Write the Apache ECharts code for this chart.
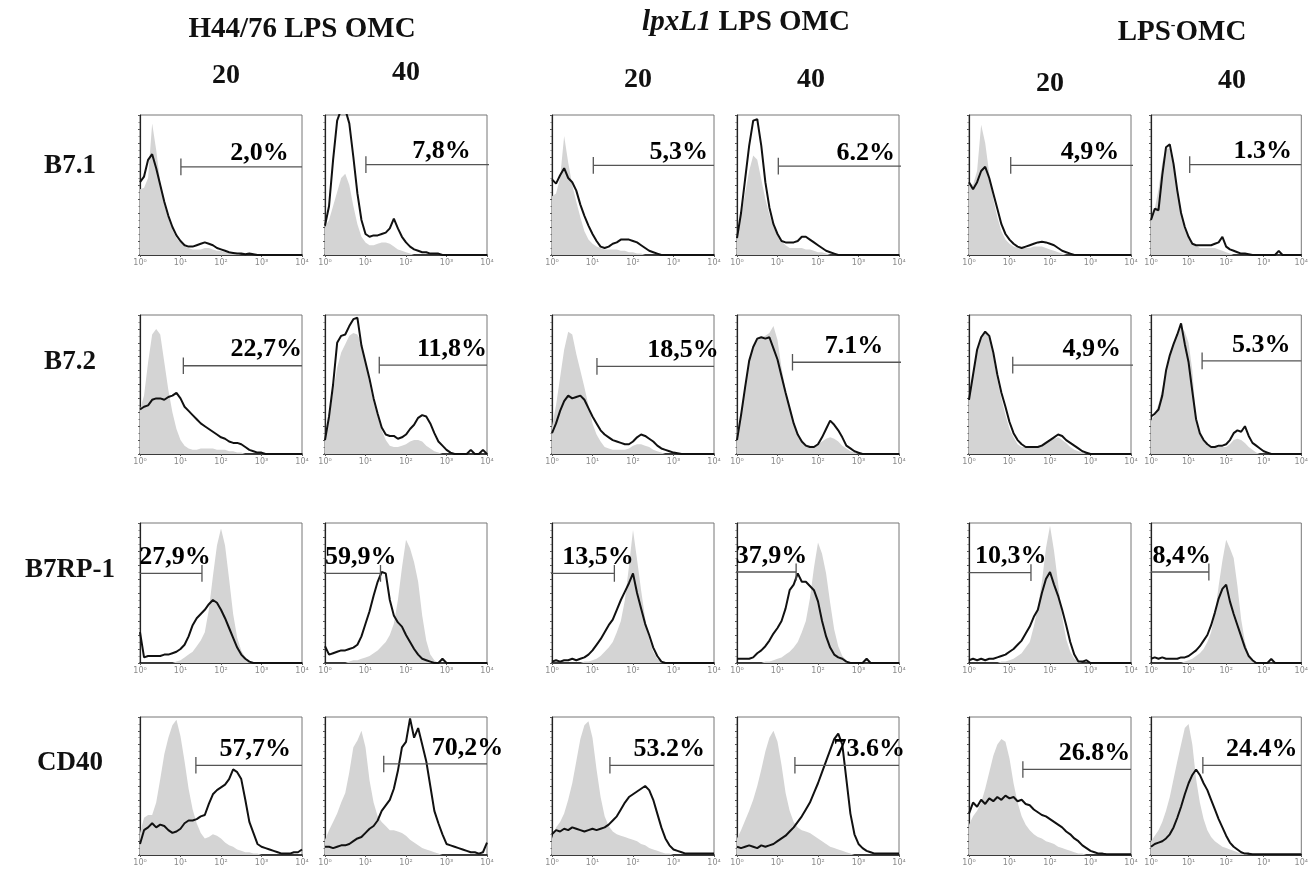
<!DOCTYPE html>
<html>
<head>
<meta charset="utf-8">
<title>B7 / CD40 expression</title>
<script src="https://cdn.jsdelivr.net/npm/echarts@6/dist/echarts.min.js"></script>
<style>
  html, body { margin: 0; padding: 0; background: #fff; }
  #main { width: 1311px; height: 870px; }
</style>
</head>
<body>
<div id="main"></div>
<script>
// log10 fluorescence, one point every 0.1 decade
var decades = [0,0.1,0.2,0.3,0.4,0.5,0.6,0.7,0.8,0.9,1,1.1,1.2,1.3,1.4,1.5,1.6,1.7,1.8,1.9,2,
  2.1,2.2,2.3,2.4,2.5,2.6,2.7,2.8,2.9,3,3.1,3.2,3.3,3.4,3.5,3.6,3.7,3.8,3.9,4];
var tickLabels = ["10⁰", "10¹", "10²", "10³", "10⁴"];

var groups = ["H44/76 LPS OMC", "lpxL1 LPS OMC", "LPS-OMC"];
var doses = ["20", "40", "20", "40", "20", "40"];
var markers = ["B7.1", "B7.2", "B7RP-1", "CD40"];

var percents = [
  ["2,0%", "7,8%", "5,3%", "6.2%", "4,9%", "1.3%"],
  ["22,7%", "11,8%", "18,5%", "7.1%", "4,9%", "5.3%"],
  ["27,9%", "59,9%", "13,5%", "37,9%", "10,3%", "8,4%"],
  ["57,7%", "70,2%", "53.2%", "73.6%", "26.8%", "24.4%"]
];

// gate: from / to (decades), height (% of panel), where the end tick sits
var gateFrom = [
  [1.01, 1.01, 1.02, 1.02, 1.03, 1.03],
  [1.07, 1.34, 1.11, 1.37, 1.08, 1.36],
  [0, -0.08, -0.04, -0.04, 0, 0],
  [1.38, 1.45, 1.43, 1.43, 1.33, 1.38]
];
var gateTo = [
  [4, 4.12, 4, 4.05, 4.05, 4],
  [4, 4, 4, 4.1, 4.12, 4],
  [1.53, 1.37, 1.54, 1.46, 1.53, 1.54],
  [4, 4, 4, 4, 4, 4]
];
var gateLevel = [
  [63, 64.5, 64, 63.5, 64, 64.5],
  [63.5, 64, 63, 66, 64, 67],
  [64, 64, 64, 65, 64.5, 65],
  [65, 66, 65, 65, 62, 65]
];
var gateTicks = [
  ["from", "from", "from", "from", "from", "from"],
  ["from", "from", "from", "from", "both", "from"],
  ["to", "to", "to", "to", "to", "to"],
  ["from", "from", "from", "from", "from", "from"]
];
// where the percentage text ends (right aligned) or starts (row 3, left aligned)
var labelAt = [
  [3.67, 3.6, 3.85, 3.9, 3.71, 3.75],
  [4.0, 4.0, 4.12, 3.61, 3.75, 3.71],
  [-0.02, 0, 0.25, -0.03, 0.15, 0.04],
  [3.73, 4.4, 3.78, 4.15, 3.98, 3.9]
];

// grey filled histograms (control), % of panel height
var greyB71 = [
  [47,48,55,94,75,52,36,26,18,12,9,6,5,4,4,4,5,5,4,3,3,2,2,1,1,0,0,0,0,0,0,0,0,0,0,0,0,0,0,0,0],
  [20,25,35,45,55,58,50,35,22,13,9,7,7,8,9,9,8,6,4,3,2,1,0,0,0,0,0,0,0,0,0,0,0,0,0,0,0,0,0,0,0],
  [42,44,55,85,66,50,38,27,17,11,8,6,5,4,4,4,4,3,3,2,2,1,1,0,0,0,0,0,0,0,0,0,0,0,0,0,0,0,0,0,0],
  [12,28,44,60,71,68,54,40,29,20,14,10,7,5,5,5,5,4,4,3,2,2,1,0,0,0,0,0,0,0,0,0,0,0,0,0,0,0,0,0,0],
  [52,50,60,93,80,58,40,27,17,11,8,6,5,5,5,5,6,6,6,5,4,3,2,1,0,0,0,0,0,0,0,0,0,0,0,0,0,0,0,0,0],
  [25,33,47,66,76,76,62,46,32,20,13,9,7,5,5,5,5,5,4,3,2,1,0,0,0,0,0,0,0,0,0,0,0,0,0,0,0,0,0,0,0]
];
var lineB71 = [
  [52,56,68,72,62,50,38,28,20,14,10,7,6,6,7,8,9,8,7,5,4,3,2,1.5,1,1,0.5,1,0.5,0,0,0,0,0,0,0,0,0,0,0,0],
  [21,35,68,96,104,104,94,70,44,25,15,13,14,14,15,16,19,26,19,13,9,6,4,3,2,2,1,1,1,0,0,0,0,0,0,0,0,0,0,0,0],
  [54,51,57,62,55,52,46,36,28,21,15,10,6,5,6,8,9,11,11,11,10,9,7,5,3,2,1,0,0,0,0,0,0,0,0,0,0,0,0,0,0],
  [12,30,54,78,96,97,78,52,34,22,15,10,9,9,9,10,13,13,11,9,7,5,3,2,1,0,0,0,0,0,0,0,0,0,0,0,0,0,0,0,0],
  [52,47,52,60,63,55,44,33,22,15,11,8,6,5,6,7,8,9,9.5,9,8,7,5,3,2,1,0,0,0,0,0,0,0,0,0,0,0,0,0,0,0],
  [25,33,32,57,77,79,65,46,30,20,13,8,7,7,7,7,7,8,9,13,6,4,3,2,1,1,0.5,0,0,0,0,0,0,0,3,0,0,0,0,0,0]
];

var greyB72 = [
  [32,42,66,86,90,86,66,46,30,18,10,6,4,3,3,4,4,4,4,3,3,3,2,2,1,1,0,0,0,0,0,0,0,0,0,0,0,0,0,0,0],
  [10,25,45,62,73,79,85,87,86,80,67,50,37,27,17,10,6,5,5,6,7,9,10,10,9,6,4,2,1,0,0,0,0,0,0,0,0,0,0,0,0],
  [20,35,55,75,88,86,72,60,48,35,22,14,9,5,4,3,3,3,3,4,6,7,7,6,5,3,2,1,0,0,0,0,0,0,0,0,0,0,0,0,0],
  [15,30,50,66,76,82,84,85,87,92,82,62,46,34,22,13,9,7,6,6,7,9,11,12,11,9,6,4,2,1,0,0,0,0,0,0,0,0,0,0,0],
  [39,57,76,85,88,84,70,53,40,28,18,12,7,5,5,5,5,6,7,9,10,11,12,10,8,5,3,2,1,0,0,0,0,0,0,0,0,0,0,0,0],
  [24,28,36,47,60,72,80,86,91,88,80,60,25,14,9,6,5,5,5,5,5,7,10,11,10,8,5,3,1,0,0,0,0,0,0,0,0,0,0,0,0]
];
var lineB72 = [
  [32,34,35,39,40,40,39,41,42,44,40,34,31,28,25,22,20,18,16,14,12,11,9,8,8,7,5,3,2,1,1,0,0,0,0,0,0,0,0,0,0],
  [10,27,50,80,85,86,92,97,98,78,66,54,40,29,19,14,13,13,11,12,14,18,21,26,28,27,22,15,9,6,3,1,0,0,0,0,3,0,0,3,0],
  [15,22,31,38,42,40,41,42,39,33,27,22,17,14,12,10,9,8,7,7,9,12,14,13,11,9,6,4,3,2,1,0.5,0,0,0,0,0,0,0,0,0],
  [10,28,48,67,77,83,84,83,84,76,68,56,44,33,22,14,9,6,5,5,7,12,18,24,21,17,12,6,4,2,1,0,0,0,0,0,0,0,0,0,0],
  [39,57,75,84,88,85,73,57,44,34,23,15,10,7,5,5,5,5,6,8,10,12,14,13,10,8,6,4,2,1,0,0,0,0,0,0,0,0,0,0,0],
  [27,29,32,42,60,71,79,86,94,79,66,45,25,15,10,7,5,5,6,6,7,10,15,17,16,20,13,8,6,4,2,1,0,0,0,0,0,0,0,0,0]
];

var greyB7RP1 = [
  [0,0,0,0,0,0,0,0,0,1,2,4,6,8,12,16,22,38,62,84,96,84,60,35,18,9,4,1,0,0,0,0,0,0,0,0,0,0,0,0,0],
  [0,0,0,0,0,0,1,2,2,3,4,5,7,9,12,15,20,28,45,68,88,82,72,58,34,16,6,2,0,0,0,0,0,0,0,0,0,0,0,0,0],
  [0,0,0,0,0,0,0,0,1,1,2,3,5,8,11,15,22,30,45,69,95,74,52,32,17,8,3,1,0,0,0,0,0,0,0,0,0,0,0,0,0],
  [0,0,0,0,0,0,0,1,1,2,3,4,6,8,11,15,22,30,46,68,86,78,64,43,24,12,5,2,0,0,0,0,0,0,0,0,0,0,0,0,0],
  [0,0,0,0,0,0,0,0,1,1,2,3,5,7,11,15,26,40,58,82,98,80,57,33,17,8,3,1,0,0,0,0,0,0,0,0,0,0,0,0,0],
  [0,0,0,0,0,0,0,0,0,1,2,3,5,7,10,15,22,35,55,73,88,82,75,55,31,15,6,2,0,0,0,0,0,0,0,0,0,0,0,0,0]
];
var lineB7RP1 = [
  [22,4,5,5,5,5,6,6,7,8,10,13,19,27,32,35,38,42,45,43,38,32,25,18,11,6,3,1,0,0,0,0,0,0,0,0,0,0,0,0,0],
  [12,6,7,8,9,9,10,11,13,19,28,37,48,58,65,64,45,34,29,26,20,15,10,6,3,2,1,0,0,3,0,0,0,0,0,0,0,0,0,0,0],
  [1,2,1,2,2,3,2,3,4,6,9,13,17,22,27,31,38,45,51,57,64,50,39,28,20,11,5,1,0,0,0,0,0,0,0,0,0,0,0,0,0],
  [3,3,3,3,4,7,9,12,16,21,25,30,39,52,56,64,58,58,55,52,44,30,19,11,6,4,3,1,0,0,0,0,3,0,0,0,0,0,0,0,0],
  [2,3,2,3,2,3,3,4,5,6,8,10,13,16,21,26,33,38,50,60,65,56,48,38,27,15,6,1,1,2,0,0,0,0,0,0,0,0,0,0,0],
  [3,4,3,4,3,3,3,3,4,4,5,7,9,12,16,20,27,36,46,53,56,44,35,27,19,11,5,2,0,0,0,0,3,0,0,0,0,0,0,0,0]
];

var greyCD40 = [
  [16,27,29,29,38,55,73,85,94,98,86,68,48,33,23,16,12,13,15,14,12,9,7,6,4,3,2,2,1,1,0,0,0,0,0,0,0,0,0,0,0],
  [11,18,24,30,38,45,60,78,83,90,78,54,38,28,24,21,18,18,17,16,14,11,9,7,5,4,3,2,1,0,0,0,0,0,0,0,0,0,0,0,0],
  [12,20,24,30,40,52,68,84,94,97,85,62,42,28,21,17,15,14,13,12,11,10,8,7,5,4,3,2,1,1,0,0,0,0,0,0,0,0,0,0,0],
  [12,18,25,32,40,50,62,75,85,90,82,65,45,32,24,20,18,17,16,14,12,10,8,6,5,4,3,2,1,0,0,0,0,0,0,0,0,0,0,0,0],
  [22,28,32,38,48,60,72,80,84,82,70,52,38,28,22,18,15,13,12,10,9,8,6,5,4,3,2,1,1,0,0,0,0,0,0,0,0,0,0,0,0],
  [10,14,18,24,32,42,55,68,80,92,95,80,55,38,26,18,13,10,8,6,5,4,3,2,1,1,0,0,0,0,0,0,0,0,0,0,0,0,0,0,0]
];
var lineCD40 = [
  [8,18,20,23,20,22,21,18,16,17,19,23,25,25,26,28,29,37,44,47,49,51,55,62,60,55,40,24,16,8,6,5,4,3,2,1,1,1,2,2,4],
  [6,6,5,6,7,7,8,10,12,13,16,19,21,25,32,36,40,48,61,78,82,99,85,92,80,68,50,32,23,15,8,7,6,5,4,3,2,2,1,2,9],
  [15,18,17,19,18,20,19,18,17,18,19,18,19,20,22,25,28,33,38,42,44,46,48,50,47,40,30,20,12,7,4,3,2,1,1,1,1,1,1,1,1],
  [6,5,6,7,6,5,7,6,7,8,10,12,14,17,20,24,28,33,38,45,52,60,68,76,84,88,80,55,30,15,8,5,3,2,1,1,1,1,1,1,1],
  [30,38,35,40,37,41,39,42,40,43,41,42,39,40,37,36,33,31,29,28,26,24,22,20,17,15,12,10,7,5,3,2,1,1,0.5,0.5,0.5,0.5,0.5,0.5,0.5],
  [6,8,9,10,12,15,20,27,35,44,52,58,62,58,52,47,40,33,26,20,14,9,6,4,2,1,1,0.5,0.5,0.5,0.5,0.5,0.5,0.5,0.5,0.5,0.5,0.5,0.5,0.5,0.5]
];

var greyRows = [greyB71, greyB72, greyB7RP1, greyCD40];
var lineRows = [lineB71, lineB72, lineB7RP1, lineCD40];

// layout
var colLeft = [140, 325, 552, 737, 969, 1151];
var rowTop = [115, 315, 523, 717];
var rowHeight = [140, 139, 140, 138];
var panelWidth = 162;
var labelLift = [0, 3, 3, 3];
var serif = "Liberation Serif";

var chart = echarts.init(document.getElementById("main"));

var grid = [], xAxis = [], yAxis = [], series = [];

function pairs(values) {
  return decades.map(function (d, i) { return [d, values[i]]; });
}

markers.forEach(function (marker, r) {
  for (var c = 0; c < 6; c++) {
    var k = r * 6 + c;
    grid.push({
      left: colLeft[c],
      top: rowTop[r],
      width: panelWidth,
      height: rowHeight[r],
      show: true,
      borderColor: "#777",
      borderWidth: 1
    });
    xAxis.push({
      gridIndex: k,
      type: "value",
      min: 0,
      max: 4,
      interval: 1,
      axisLine: { onZero: false, lineStyle: { color: "#111", width: 1.5 } },
      axisTick: { show: true, length: 2, lineStyle: { color: "#555" } },
      splitLine: { show: false },
      axisLabel: {
        formatter: function (v) { return tickLabels[v]; },
        fontFamily: "DejaVu Sans",
        fontSize: 8,
        color: "#8a8a8a",
        margin: 4,
        showMinLabel: true,
        showMaxLabel: true
      }
    });
    yAxis.push({
      gridIndex: k,
      type: "value",
      min: 0,
      max: 100,
      interval: 10,
      axisLine: { show: true, lineStyle: { color: "#222", width: 1.2 } },
      axisTick: { show: true, length: 2, lineStyle: { color: "#555" } },
      minorTick: { show: true, splitNumber: 2, length: 1.5, lineStyle: { color: "#777" } },
      axisLabel: { show: false },
      splitLine: { show: false }
    });

    // control histogram, grey fill
    series.push({
      type: "line",
      xAxisIndex: k,
      yAxisIndex: k,
      data: pairs(greyRows[r][c]),
      symbol: "none",
      lineStyle: { width: 0 },
      areaStyle: { color: "#d4d4d4", opacity: 1 },
      silent: true,
      z: 1
    });
    // stained histogram, black outline
    series.push({
      type: "line",
      xAxisIndex: k,
      yAxisIndex: k,
      data: pairs(lineRows[r][c]),
      symbol: "none",
      lineStyle: { color: "#111", width: 2 },
      silent: true,
      z: 3
    });

    // gate
    var lo = gateFrom[r][c], hi = gateTo[r][c], lv = gateLevel[r][c];
    var gateStyle = { color: "#555", width: 1.3 };
    series.push({
      type: "line",
      xAxisIndex: k,
      yAxisIndex: k,
      data: [[lo, lv], [hi, lv]],
      symbol: "none",
      lineStyle: gateStyle,
      clip: false,
      silent: true,
      z: 4
    });
    var ticks = gateTicks[r][c] === "both" ? [lo, hi] : [gateTicks[r][c] === "from" ? lo : hi];
    ticks.forEach(function (t) {
      series.push({
        type: "line",
        xAxisIndex: k,
        yAxisIndex: k,
        data: [[t, lv - 6], [t, lv + 6]],
        symbol: "none",
        lineStyle: gateStyle,
        clip: false,
        silent: true,
        z: 4
      });
    });

    // percentage
    series.push({
      type: "scatter",
      xAxisIndex: k,
      yAxisIndex: k,
      data: [[labelAt[r][c], lv]],
      symbolSize: 0.1,
      itemStyle: { color: "transparent", opacity: 1 },
      clip: false,
      silent: true,
      z: 5,
      label: {
        show: true,
        position: "top",
        distance: labelLift[r],
        align: r === 2 ? "left" : "right",
        formatter: percents[r][c],
        fontFamily: serif,
        fontWeight: "bold",
        fontSize: 26,
        color: "#000",
        opacity: 1
      }
    });
  }
});

var headStyle = { fontFamily: serif, fontWeight: "bold", fontSize: 29, fill: "#111", align: "center", verticalAlign: "middle" };
function text(x, y, str, extra) {
  var style = Object.assign({}, headStyle, { text: str }, extra || {});
  return { type: "text", x: x, y: y, silent: true, style: style };
}

var graphic = [
  text(302, 30, groups[0]),
  text(746, 23, "{i|lpxL1} LPS OMC", {
    rich: { i: { fontFamily: serif, fontWeight: "bold", fontStyle: "italic", fontSize: 29 } }
  }),
  text(1182, 33, "{a|LPS}{s|-}{a|OMC}", {
    rich: {
      a: { fontFamily: serif, fontWeight: "bold", fontSize: 29 },
      s: { fontFamily: serif, fontWeight: "bold", fontSize: 14, verticalAlign: "top" }
    }
  })
];
var doseX = [226, 406, 638, 811, 1050, 1232];
var doseY = [76, 73, 80, 80, 84, 81];
doses.forEach(function (d, i) { graphic.push(text(doseX[i], doseY[i], d, { fontSize: 28 })); });

var markerY = [166, 362, 570, 763];
markers.forEach(function (m, r) {
  graphic.push(text(70, markerY[r], m, { fontSize: 27 }));
});

chart.setOption({
  animation: false,
  backgroundColor: "#fff",
  grid: grid,
  xAxis: xAxis,
  yAxis: yAxis,
  series: series,
  graphic: graphic
});
</script>
</body>
</html>
